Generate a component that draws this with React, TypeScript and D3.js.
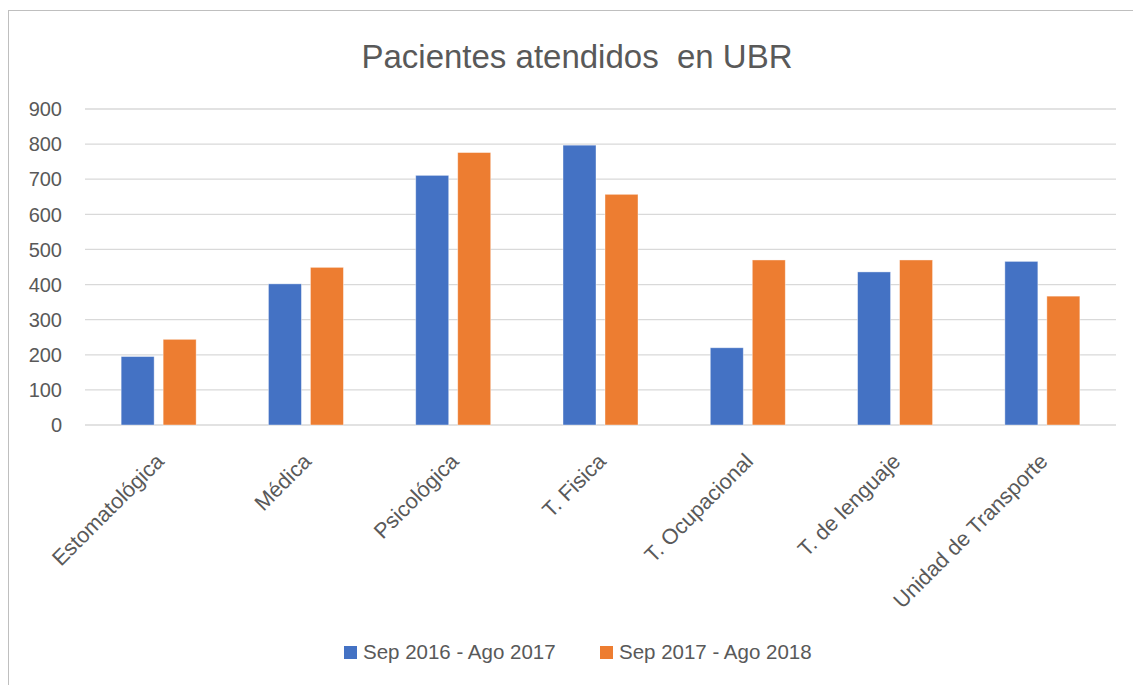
import React from "react";
import * as d3 from "d3";

const categories = [
  "Estomatológica",
  "Médica",
  "Psicológica",
  "T. Fisica",
  "T. Ocupacional",
  "T. de lenguaje",
  "Unidad de Transporte",
];
const seriesNames = ["Sep 2016 - Ago 2017", "Sep 2017 - Ago 2018"];
const series2017 = [195, 402, 711, 797, 220, 436, 466];
const series2018 = [244, 449, 776, 657, 470, 470, 367];
const seriesColors = ["#4472C4", "#ED7D31"];
const yTicks = [0, 100, 200, 300, 400, 500, 600, 700, 800, 900];
const titleText = "Pacientes atendidos  en UBR";

const W = 1133;
const H = 685;
const FONT = "'Liberation Sans', Arial, sans-serif";
const TXT = "#595959";

export default function App() {
  const x0 = d3.scaleBand<string>().domain(categories).range([85, 1116]).padding(0);
  const x1 = d3
    .scaleBand<number>()
    .domain([0, 1])
    .range([0, 75])
    .paddingInner(9 / 42)
    .paddingOuter(0);
  const y = d3.scaleLinear().domain([0, 900]).range([425, 109]);
  const data = [series2017, series2018];

  return (
    <div style={{ position: "fixed", left: 0, top: 0 }}>
      <svg width={W} height={H} style={{ display: "block", background: "#fff" }} fontFamily={FONT}>
        <rect x={0} y={0} width={W} height={H} fill="#fff" />
        <rect x={8.5} y={10.5} width={1140} height={700} fill="#fff" stroke="#BFBFBF" strokeWidth={1} />
        <text
          x={577}
          y={68}
          textAnchor="middle"
          fontSize={33}
          fill={TXT}
          style={{ whiteSpace: "pre" }}
        >
          {titleText}
        </text>
        {yTicks.map((t) => (
          <g key={t}>
            <line x1={85} x2={1116} y1={y(t)} y2={y(t)} stroke="#D9D9D9" strokeWidth={1.3} />
            <text x={62} y={y(t)} dy="0.36em" textAnchor="end" fontSize={20} fill={TXT}>
              {t}
            </text>
          </g>
        ))}
        {categories.map((c, i) => {
          const cx = (x0(c) as number) + x0.bandwidth() / 2;
          return (
            <g key={c}>
              {data.map((s, k) => (
                <rect
                  key={k}
                  x={cx - 37.5 + (x1(k) as number)}
                  y={y(s[i])}
                  width={x1.bandwidth()}
                  height={y(0) - y(s[i])}
                  fill={seriesColors[k]}
                  stroke="#fff"
                  strokeOpacity={0.5}
                  strokeWidth={0.8}
                />
              ))}
              <text
                transform={`translate(${cx - 4},${452}) rotate(-45)`}
                textAnchor="end"
                dy="0.7em"
                fontSize={21.6}
                fill={TXT}
              >
                {c}
              </text>
            </g>
          );
        })}
        {seriesNames.map((n, k) => {
          const lx = [344, 600][k];
          return (
            <g key={n}>
              <rect x={lx} y={646} width={13} height={13} fill={seriesColors[k]} />
              <text x={lx + 19} y={659} fontSize={20.5} fill={TXT}>
                {n}
              </text>
            </g>
          );
        })}
      </svg>
    </div>
  );
}
